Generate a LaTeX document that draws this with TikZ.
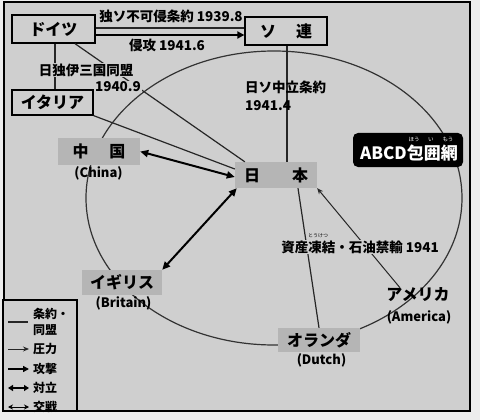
\documentclass[tikz,border=0pt]{standalone}
\usepackage{fontspec}
\setmainfont{Noto Sans CJK JP}
\usetikzlibrary{arrows.meta}
\definecolor{bg}{gray}{0.81}
\definecolor{patch}{gray}{0.71}
\definecolor{outer}{gray}{0.93}
\begin{document}
\begin{tikzpicture}[x=1pt,y=-1pt,
  box/.style={draw=black, line width=1.3pt, fill=bg, inner sep=0pt, font=\fontsize{16}{18}\selectfont\bfseries},
  patchbox/.style={fill=patch, inner sep=0pt, font=\fontsize{16}{18}\selectfont\bfseries},
  cname/.style={inner sep=0pt, font=\fontsize{16}{18}\selectfont\bfseries},
  en/.style={inner sep=0pt, font=\fontsize{13}{15}\selectfont\bfseries},
  lbl/.style={inner sep=1pt, font=\fontsize{13.5}{15}\selectfont\bfseries},
  lblf/.style={lbl, fill=bg},
  legtxt/.style={inner sep=0pt, anchor=west, font=\fontsize{12}{13}\selectfont\bfseries, align=left},
  rel/.style={line width=1.2pt, draw=black!85},
  press/.style={line width=1pt, draw=black!85, -{Stealth[length=6pt,width=5pt]}},
  attack/.style={line width=2.2pt, -{Triangle[length=7pt,width=7pt]}},
  conflict/.style={line width=2pt, {Triangle[length=8pt,width=7pt]}-{Triangle[length=8pt,width=7pt]}},
  war/.style={line width=1pt, {Stealth[length=5pt,width=5pt]}-{Stealth[length=5pt,width=5pt]}},
  circ/.style={line width=1.2pt, draw=black!80}]
\useasboundingbox (0,0) rectangle (480,420);
\fill[outer] (0,0) rectangle (480,420);
\draw[fill=bg, line width=1.5pt] (4,2) rectangle (470,411);

% ABCD encirclement
\draw[circ] (274,198) ellipse [x radius=188, y radius=147];

% boxed countries
\node[box, minimum width=83pt, minimum height=28pt] (de) at (53.5,29) {ドイツ};
\node[box, minimum width=82pt, minimum height=28pt] (su) at (286,31) {ソ\hspace{1.25em}連};
\node[box, minimum width=81pt, minimum height=25pt] (it) at (52.5,102.5) {イタリア};

% patched countries
\node[patchbox, minimum width=82pt, minimum height=26pt] (jp) at (276,175) {日\hspace{2em}本};
\node[patchbox, minimum width=82pt, minimum height=27pt] (cn) at (99,151.5) {中\hspace{1.3em}国};
\node[en] (cnen) at (98.5,173) {(China)};
\node[patchbox, minimum width=80pt, minimum height=25pt] (br) at (122,282.5) {イギリス};
\node[en] (bren) at (123.5,303) {(Britain)};
\node[patchbox, minimum width=82pt, minimum height=24pt] (nl) at (319,340) {オランダ};
\node[en] (nlen) at (321.5,360) {(Dutch)};
\node[cname] (us) at (418,295) {アメリカ};
\node[en] (usen) at (419,317) {(America)};

% ABCD label
\node[fill=black, rounded corners=5pt, minimum width=110pt, minimum height=34pt, inner sep=0pt] (abcd) at (408,150) {};
\node[inner sep=0pt, text=white, font=\fontsize{17}{18}\selectfont\bfseries] (abcdt) at (409,153) {ABCD包囲網};
\node[inner sep=0pt, text=white, font=\fontsize{5.5}{6}\selectfont] (abcdr) at (431,139) {\makebox[17pt]{ほう}\makebox[17pt]{い}\makebox[17pt]{もう}};

% Germany - Soviet
\draw[rel] ([yshift=1pt]de.east) -- ([yshift=1pt]de.east -| su.west);
\draw[attack] ([yshift=-6pt]de.east) -- ([yshift=-6pt]de.east -| su.west);
\node[lbl] (l1) at (171,16) {独ソ不可侵条約 1939.8};
\node[lbl] (l2) at (167,45) {侵攻 1941.6};

% Axis
\draw[rel] ([xshift=1.5pt]de.south) -- ([xshift=1.5pt]de.south |- it.north);
\draw[rel] ([xshift=21.5pt]de.south) -- ([xshift=10pt]jp.north west);
\draw[rel] (it.south east) -- ([yshift=6pt]jp.west);
\node[lblf] (l3) at (86,70) {日独伊三国同盟};
\node[lblf] (l4) at (118,87) {1940.9};

% Soviet - Japan
\draw[rel] ([xshift=1pt]su.south) -- ([xshift=1pt]su.south |- jp.north);
\node[lbl, anchor=west] (l5) at (244,87) {日ソ中立条約};
\node[lbl, anchor=west] (l6) at (244,106) {1941.4};

% conflicts
\draw[conflict] (cn.east) -- ([yshift=-2pt]jp.west);
\draw[conflict] ([xshift=2pt]jp.south west) -- (br.north east);

% Japan - Netherlands / America
\draw[rel] ([xshift=22pt]jp.south) -- (nl.north);
\draw[press] ([xshift=-18pt]us.north) -- (jp.south east);
\node[lblf] (l7) at (360,247) {資産凍結・石油禁輸 1941};
\node[inner sep=0pt, font=\fontsize{5}{6}\selectfont] (l7r) at (318,236) {とうけつ};

% legend
\draw[line width=1.2pt, fill=bg] (3,300) rectangle (77,411);
\coordinate (a1) at (8,322);  \coordinate (b1) at (28,322);
\coordinate (a2) at (8,349);  \coordinate (b2) at (29,349);
\coordinate (a3) at (8,369);  \coordinate (b3) at (29,369);
\coordinate (a4) at (8,388);  \coordinate (b4) at (29,388);
\coordinate (a5) at (8,407);  \coordinate (b5) at (29,407);
\draw[rel] (a1) -- (b1);
\draw[press, line width=0.9pt] (a2) -- (b2);
\draw[line width=2pt, -{Triangle[length=6pt,width=6pt]}] (a3) -- (b3);
\draw[line width=1.8pt, {Triangle[length=5pt,width=6pt]}-{Triangle[length=5pt,width=6pt]}] (a4) -- (b4);
\draw[war] (a5) -- (b5);
\node[legtxt] (t1) at (33,322) {条約・\\[3pt]同盟};
\node[legtxt] (t2) at (33,349) {圧力};
\node[legtxt] (t3) at (33,369) {攻撃};
\node[legtxt] (t4) at (33,388) {対立};
\node[legtxt] (t5) at (33,407) {交戦};
\end{tikzpicture}
\end{document}
